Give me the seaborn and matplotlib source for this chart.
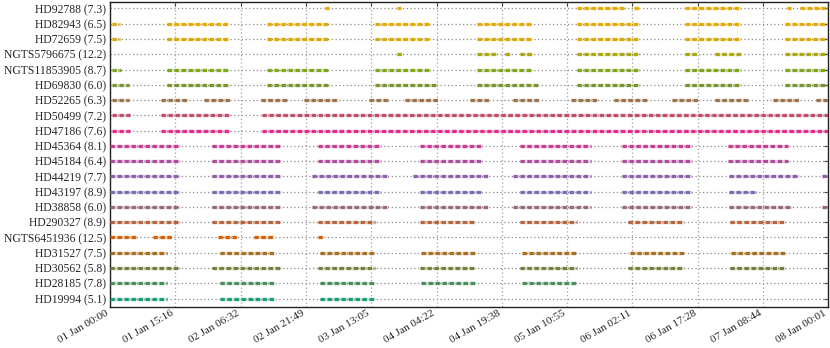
import numpy as np
import pandas as pd
import matplotlib
matplotlib.use("Agg")
import matplotlib.pyplot as plt
from matplotlib.colors import LinearSegmentedColormap
import seaborn as sns

# ---- data (hours since 01 Jan 00:00) ----
targets = ["HD92788 (7.3)", "HD82943 (6.5)", "HD72659 (7.5)", "NGTS5796675 (12.2)",
           "NGTS11853905 (8.7)", "HD69830 (6.0)", "HD52265 (6.3)", "HD50499 (7.2)",
           "HD47186 (7.6)", "HD45364 (8.1)", "HD45184 (6.4)", "HD44219 (7.7)",
           "HD43197 (8.9)", "HD38858 (6.0)", "HD290327 (8.9)", "NGTS6451936 (12.5)",
           "HD31527 (7.5)", "HD30562 (5.8)", "HD28185 (7.8)", "HD19994 (5.1)"]

hd92788 = [(50.3, 51.2), (67.2, 68.1), (109.3, 120.7), (122.6, 123.8), (134.5, 147.6), (158.4, 159.3), (161.4, 168)]
hd82943 = [(0.5, 2.3), (13.3, 27.6), (36.7, 51.2), (62.0, 74.9), (85.9, 98.5), (109.3, 123.8), (134.5, 147.6), (157.9, 168)]
hd72659 = [(0.5, 2.3), (13.3, 27.8), (36.7, 51.2), (62.0, 75.1), (85.9, 98.7), (109.3, 123.8), (134.5, 147.6), (157.9, 168)]
ngts5796675 = [(67.2, 68.3), (85.9, 90.8), (92.4, 93.8), (95.9, 99.0), (109.3, 124.0), (134.5, 137.3), (141.6, 147.6), (157.9, 168)]
ngts11853905 = [(0.5, 2.6), (13.3, 27.8), (36.7, 51.2), (62.0, 75.1), (85.9, 98.7), (109.3, 124.0), (134.5, 147.6), (157.9, 168)]
hd69830 = [(0.5, 4.5), (13.3, 28.1), (36.7, 51.5), (62.0, 76.7), (85.9, 100.1), (109.3, 124.0), (134.5, 147.6), (157.9, 168)]
hd52265 = [(0.5, 4.5), (11.9, 18.3), (22.0, 28.1), (35.3, 41.7), (45.4, 53.4), (60.6, 65.3), (69.0, 76.7), (84.2, 88.7),
           (94.3, 100.4), (107.9, 114.2), (117.9, 125.9), (131.5, 137.6), (141.6, 149.5), (155.1, 161.2), (165.0, 168)]
hd50499 = [(0.5, 4.7), (11.9, 28.1), (35.6, 168)]
hd47186 = [(0.5, 4.7), (11.9, 28.1), (35.6, 168)]
hd45364 = [(0, 16.4), (23.9, 40.0), (48.7, 63.4), (72.5, 87.0), (95.9, 112.5), (119.8, 136.2), (144.6, 158.6)]
hd45184 = [(0, 16.4), (23.9, 40.0), (48.7, 63.4), (72.5, 87.0), (95.9, 112.5), (119.8, 136.2), (144.6, 158.6)]
hd44219 = [(0, 16.4), (23.9, 40.0), (47.3, 65.0), (70.9, 88.4), (94.3, 112.5), (119.8, 136.2), (144.8, 161.2), (166.6, 168)]
hd43197 = [(0, 16.4), (23.9, 40.0), (48.7, 63.4), (72.5, 87.0), (95.9, 112.5), (119.8, 136.2), (144.8, 151.4)]
hd38858 = [(0, 16.4), (23.9, 40.0), (47.3, 65.0), (72.5, 88.4), (94.3, 112.5), (119.8, 136.2), (144.8, 159.6), (166.6, 168)]
hd290327 = [(0, 16.4), (23.9, 40.0), (48.7, 62.0), (72.5, 85.4), (95.9, 109.3), (121.2, 134.3), (145.1, 157.9)]
ngts6451936 = [(0, 6.3), (10.1, 14.5), (25.3, 29.7), (33.7, 38.4), (48.7, 49.8)]
hd31527 = [(0, 13.3), (25.7, 38.4), (49.1, 62.0), (72.8, 85.6), (96.4, 109.3), (121.7, 134.3), (145.3, 157.9)]
hd30562 = [(0, 16.4), (23.9, 40.0), (48.7, 62.0), (72.5, 85.4), (95.9, 109.3), (121.2, 134.3), (145.1, 157.9)]
hd28185 = [(0, 13.3), (25.7, 38.4), (49.1, 62.0), (72.8, 85.6), (96.4, 109.3)]
hd19994 = [(0, 13.3), (25.7, 38.4), (49.1, 62.0)]

windows = [hd92788, hd82943, hd72659, ngts5796675, ngts11853905, hd69830, hd52265,
           hd50499, hd47186, hd45364, hd45184, hd44219, hd43197, hd38858, hd290327,
           ngts6451936, hd31527, hd30562, hd28185, hd19994]

tick_hours = list(np.linspace(0, 168, 12))
tick_labels = ["01 Jan 00:00", "01 Jan 15:16", "02 Jan 06:32", "02 Jan 21:49",
               "03 Jan 13:05", "04 Jan 04:22", "04 Jan 19:38", "05 Jan 10:55",
               "06 Jan 02:11", "06 Jan 17:28", "07 Jan 08:44", "08 Jan 00:01"]

# ---- build long table ----
n = len(targets)
rows = []
seg = 0
for i, (name, wins) in enumerate(zip(targets, windows)):
    ypos = n - 1 - i
    for (a, b) in wins:
        rows.append({"target": name, "y": ypos, "t": a, "seg": seg})
        rows.append({"target": name, "y": ypos, "t": b, "seg": seg})
        seg += 1
df = pd.DataFrame(rows)

anchors = [(0.0, "#1b9e77"), (4 / 19, "#d95f02"), (7 / 19, "#7570b3"), (11 / 19, "#e7298a"),
           (14.5 / 19, "#66a61e"), (17.4 / 19, "#e6ab02"), (1.0, "#e6ab02")]
cmap = LinearSegmentedColormap.from_list("d2", anchors)
palette = {name: cmap((n - 1 - i) / (n - 1)) for i, name in enumerate(targets)}

sns.set_theme(style="white")
plt.rcParams["font.family"] = ["Liberation Serif", "DejaVu Serif"]

fig = plt.figure(figsize=(8.3, 3.48), dpi=100)
ax = fig.add_axes([0.1325, 0.118, 0.8655, 0.876])

# grid
for k in range(n):
    ax.axhline(k, color="#8a8a8a", lw=0.9, ls=(0, (1, 2)), zorder=1)
for th in tick_hours:
    ax.axvline(th, color="#a0a0a0", lw=0.9, ls=(0, (1, 2)), zorder=1)

# faint underlay
sns.lineplot(data=df, x="t", y="y", hue="target", units="seg", estimator=None,
             palette=palette, sort=False, legend=False, lw=2.4, alpha=0.25,
             solid_capstyle="butt", ax=ax, zorder=2)
# dashed observation windows
sns.lineplot(data=df, x="t", y="y", hue="target", units="seg", estimator=None,
             palette=palette, sort=False, legend=False, lw=2.3,
             linestyle=(0, (1.35, 0.85)), dash_capstyle="butt", ax=ax, zorder=3)

ax.set_xlim(0, 168)
ax.set_ylim(-0.55, n - 1 + 0.42)
ax.set_yticks(range(n))
ax.set_yticklabels(targets[::-1], fontsize=8.4)
ax.set_xticks(tick_hours)
ax.set_xticklabels(tick_labels, rotation=30, ha="right", fontsize=8.0)
ax.set_xlabel("")
ax.set_ylabel("")
ax.tick_params(direction="in", top=True, right=True, length=3, width=0.8, color="#333333", pad=3)
ax.tick_params(axis="x", pad=1)
for s in ax.spines.values():
    s.set_color("#222222")
    s.set_linewidth(1.0)

fig.savefig("out.png", dpi=100)
